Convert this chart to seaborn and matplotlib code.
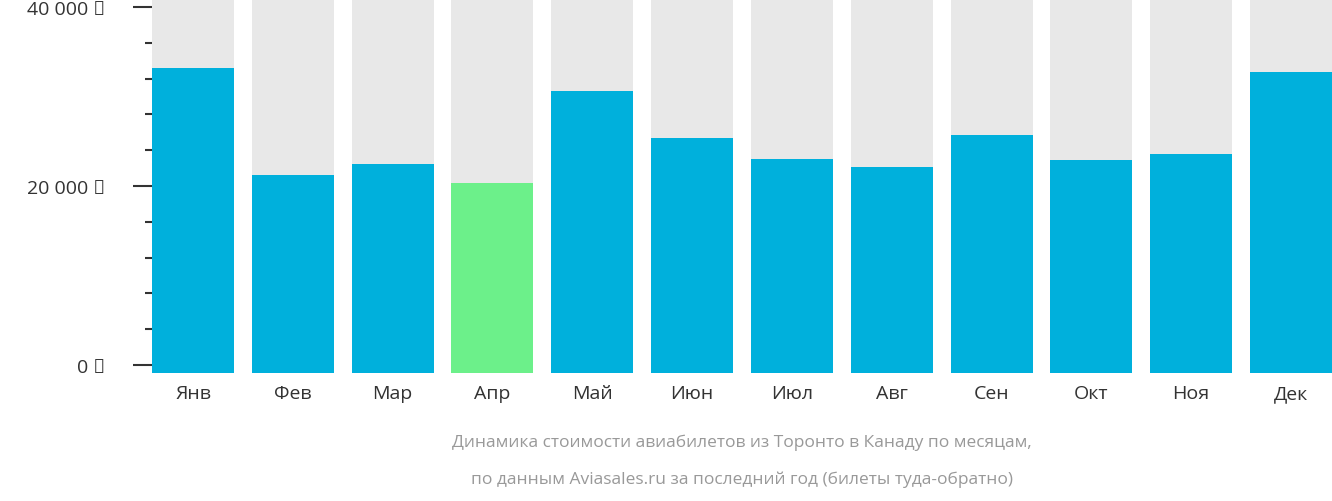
import matplotlib
matplotlib.use("Agg")
import matplotlib.pyplot as plt
import seaborn as sns
import pandas as pd
from matplotlib.ticker import MultipleLocator, FuncFormatter

months = ["Янв","Фев","Мар","Апр","Май","Июн","Июл","Авг","Сен","Окт","Ноя","Дек"]
prices = [33200, 21200, 22450, 20350, 30600, 25350, 23000, 22100, 25700, 22900, 23550, 32750]
highlight = "Апр"

ymin, ymax = -894, 40894
df = pd.DataFrame({"month": months, "price": prices, "bg": [ymax - ymin] * len(months)})

fig = plt.figure(figsize=(13.32, 5.02), dpi=100)
ax = fig.add_axes([152/1332, 1 - 374/502, 1180/1332, 374/502])
sns.barplot(data=df, x="month", y="bg", bottom=ymin, color="#E8E8E8", width=0.82, ax=ax, saturation=1)
colors = ["#6CF08A" if m == highlight else "#00B0DC" for m in months]
sns.barplot(data=df, x="month", y=[p - ymin for p in prices], bottom=ymin, hue="month",
            palette=colors, legend=False, width=0.82, ax=ax, saturation=1)
ax.set_xlim(-0.41, 11.41)
ax.set_ylim(ymin, ymax)
for s in ax.spines.values():
    s.set_visible(False)
ax.yaxis.set_major_locator(MultipleLocator(20000))
ax.yaxis.set_minor_locator(MultipleLocator(4000))
ax.yaxis.set_major_formatter(FuncFormatter(lambda v, p: f"{int(v):,}".replace(",", " ") + " ₽"))
ax.tick_params(axis="y", which="major", length=14, width=1.5, color="#333333", pad=20, labelsize=14, labelcolor="#333333")
ax.tick_params(axis="y", which="minor", length=5, width=1.5, color="#333333", pad=20)
ax.tick_params(axis="x", length=0, pad=8, labelsize=14, labelcolor="#333333")
for t in ax.get_yticklabels() + ax.get_xticklabels():
    t.set_fontfamily("Open Sans")
ax.set_xlabel(""); ax.set_ylabel("")
fig.text(742/1332, 1 - 443/502, "Динамика стоимости авиабилетов из Торонто в Канаду по месяцам,",
         ha="center", va="center", fontsize=12.5, color="#999999", family="Open Sans")
fig.text(742/1332, 1 - 480/502, "по данным Aviasales.ru за последний год (билеты туда-обратно)",
         ha="center", va="center", fontsize=12.5, color="#999999", family="Open Sans")
fig.savefig("out.png", dpi=100)
